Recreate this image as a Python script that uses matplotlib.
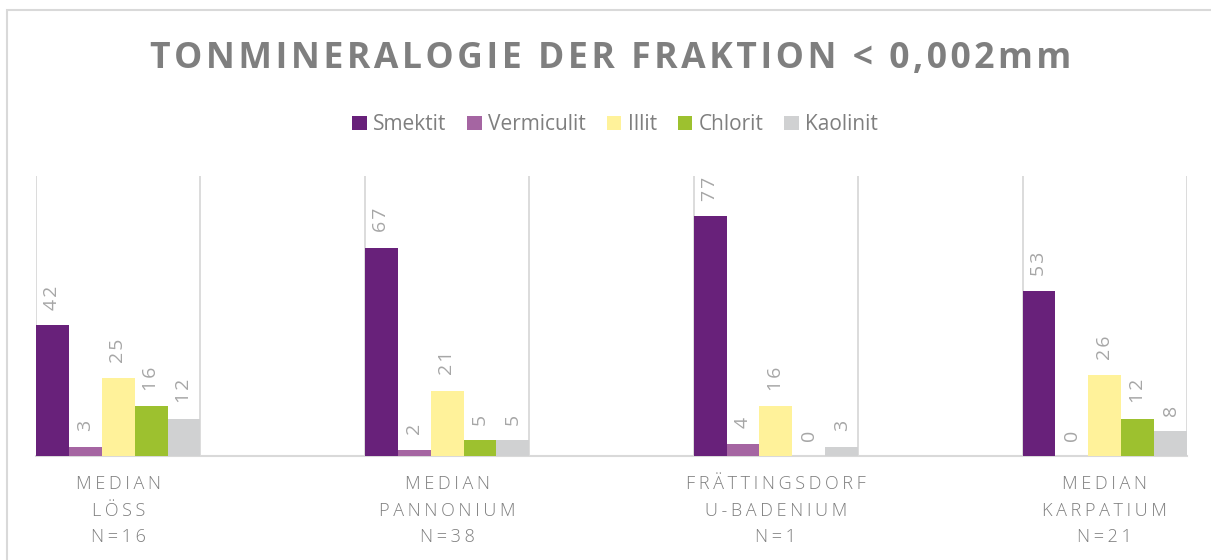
import matplotlib
matplotlib.use("Agg")
import matplotlib.pyplot as plt
from matplotlib.patches import Patch, Rectangle
import numpy as np

plt.rcParams['font.family'] = ['Open Sans', 'DejaVu Sans']

# data
groups = ["MEDIAN\nLÖSS\nN=16", "MEDIAN\nPANNONIUM\nN=38",
          "FRÄTTINGSDORF\nU-BADENIUM\nN=1", "MEDIAN\nKARPATIUM\nN=21"]
minerals = ["Smektit", "Vermiculit", "Illit", "Chlorit", "Kaolinit"]
smektit = [42, 67, 77, 53]
vermiculit = [3, 2, 4, 0]
illit = [25, 21, 16, 26]
chlorit = [16, 5, 0, 12]
kaolinit = [12, 5, 3, 8]
colors = ["#68217a", "#a565a2", "#fff29a", "#9dc12f", "#d0d1d2"]

series = [smektit, vermiculit, illit, chlorit, kaolinit]
grey = "#7f7f7f"
grid = "#d9d9d9"


def spaced(s, sp="\u2009"):
    # fake letter spacing for the Excel look
    return "\n".join(sp.join(line) for line in s.split("\n"))


fig = plt.figure(figsize=(12.11, 5.6), dpi=100)
ax = fig.add_axes([36 / 1211, 104 / 560, 1151 / 1211, 280 / 560])

x = np.arange(len(groups))
w = 0.1
for j, (vals, c) in enumerate(zip(series, colors)):
    pos = x + (j - 2) * w
    ax.bar(pos, vals, width=w, color=c, align="center", zorder=3)
    for p, v in zip(pos, vals):
        ax.annotate(spaced(str(v), "\u200a"), (p, v), xytext=(0, 11),
                    textcoords="offset points", rotation=90, ha="center",
                    va="bottom", fontsize=14, color="#a6a6a6")

for xi in x:
    for e in (xi - 0.25, xi + 0.25):
        ax.axvline(e, color=grid, lw=1.3, zorder=1)

ax.set_xlim(-0.25, 3.25)
ax.set_ylim(0, 90)
ax.set_yticks([])
ax.set_xticks(x)
ax.set_xticklabels([spaced(g) for g in groups], fontsize=13, color=grey,
                   linespacing=1.6, fontweight="light")
ax.tick_params(axis="x", length=0, pad=14)
for s in ["left", "right", "top"]:
    ax.spines[s].set_visible(False)
ax.spines["bottom"].set_color(grid)
ax.spines["bottom"].set_linewidth(1.5)

fig.text(0.504, 0.895, spaced("TONMINERALOGIE DER FRAKTION < 0,002mm", "\u200a"),
         ha="center", va="center", fontsize=25.6, fontweight="bold", color=grey)

handles = [Patch(facecolor=c, edgecolor="none") for c in colors]
fig.legend(handles, minerals, loc="center", bbox_to_anchor=(0.508, 0.777),
           ncol=5, frameon=False, fontsize=15, labelcolor=grey,
           handlelength=0.7, handleheight=0.7, handletextpad=0.3,
           columnspacing=1.0)

fig.patches.append(Rectangle((7 / 1211, -0.1), 1.2, 1 - 10 / 560 + 0.1,
                             transform=fig.transFigure, fill=False,
                             edgecolor=grid, lw=1.5))

fig.savefig("out.png", dpi=100)
